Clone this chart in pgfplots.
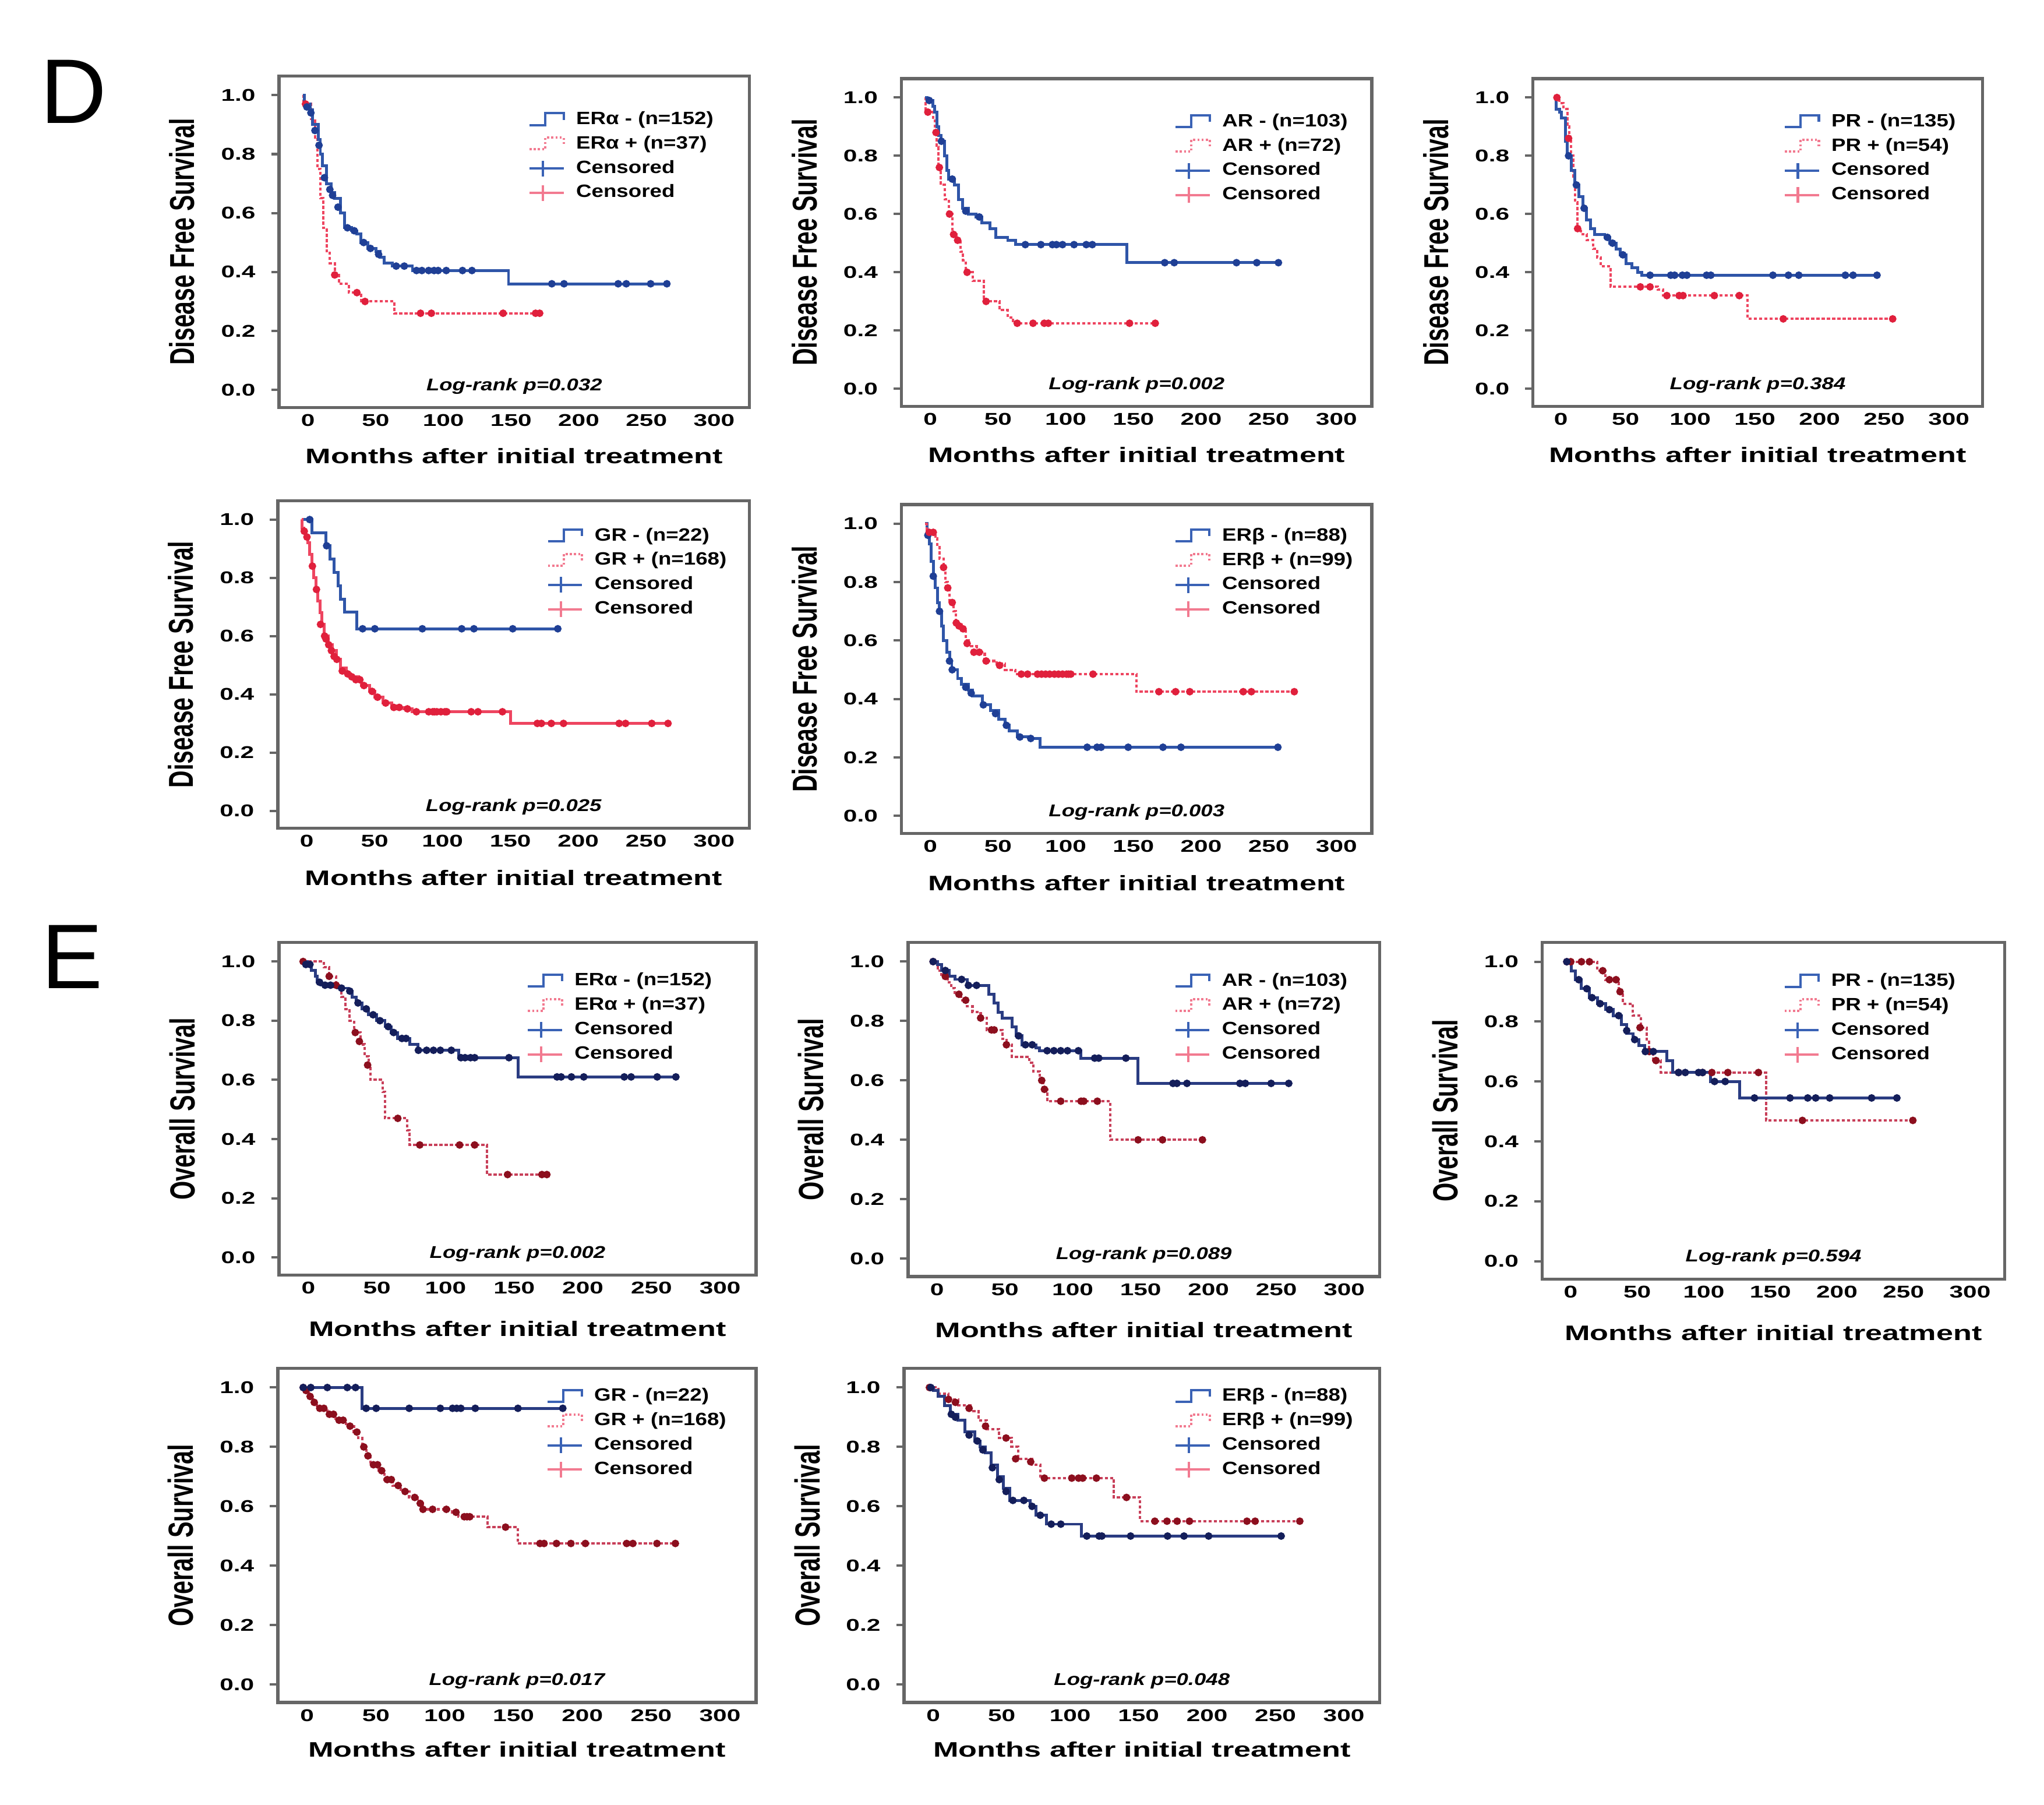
\documentclass[border=0pt]{standalone}
\usepackage{fontspec}
\setmainfont{Liberation Sans}
\usepackage{graphicx}
\usepackage{pgfplots}
\pgfplotsset{compat=1.18}

\definecolor{framegray}{HTML}{666666}
\definecolor{dfsblue}{HTML}{2F55A8}
\definecolor{dfsbluemk}{HTML}{1F3F95}
\definecolor{dfsred}{HTML}{EE4560}
\definecolor{dfsredmk}{HTML}{E0203C}
\definecolor{osblue}{HTML}{2A3C82}
\definecolor{osbluemk}{HTML}{141E5A}
\definecolor{osred}{HTML}{C8405A}
\definecolor{osredmk}{HTML}{8C0F1E}
\definecolor{legblue}{HTML}{3A62B5}
\definecolor{legpink}{HTML}{F27A90}

\newcommand\tkl[1]{\scalebox{1.45}[1]{\fontsize{6.5}{7}\selectfont\bfseries #1}}
\newcommand\lgt[1]{\scalebox{1.2}[1]{\fontsize{6.8}{7}\selectfont\bfseries #1}}
\newcommand\xl{\scalebox{1.45}[1]{\fontsize{8}{9}\selectfont\bfseries Months after initial treatment}}
\newcommand\ylD{\scalebox{1}[1.45]{\fontsize{9.1}{10}\selectfont\bfseries Disease Free Survival}}
\newcommand\ylO{\scalebox{1}[1.45]{\fontsize{9.2}{10}\selectfont\bfseries Overall Survival}}
\newcommand\lr[1]{\node at (rel axis cs:0.5,0.065) {\scalebox{1.25}[1]{\fontsize{6.5}{7}\selectfont\bfseries\itshape Log-rank p=#1}};}

% legend: step line, dotted step line, two censor marks
\newcommand\kmleg[2]{%
  \addlegendimage{legend image code/.code={\path[draw=none,fill=none] (0pt,-3pt) rectangle (17pt,3pt); \draw[legblue, line width=0.9pt] (0pt,-2pt) -- (6pt,-2pt) -- (6pt,2.5pt) -- (13pt,2.5pt) -- (13pt,0pt);}}
  \addlegendentry{\lgt{#1}}
  \addlegendimage{legend image code/.code={\path[draw=none,fill=none] (0pt,-3pt) rectangle (17pt,3pt); \draw[legpink, line width=0.9pt, dash pattern=on 0.8pt off 0.8pt] (0pt,-2pt) -- (6pt,-2pt) -- (6pt,2.5pt) -- (13pt,2.5pt) -- (13pt,0pt);}}
  \addlegendentry{\lgt{#2}}
  \addlegendimage{legend image code/.code={\path[draw=none,fill=none] (0pt,-3pt) rectangle (17pt,3pt); \draw[legblue, line width=0.9pt] (0pt,0pt) -- (13pt,0pt); \draw[legblue, line width=0.9pt] (5pt,-3pt) -- (5pt,3pt);}}
  \addlegendentry{\lgt{Censored}}
  \addlegendimage{legend image code/.code={\path[draw=none,fill=none] (0pt,-3pt) rectangle (17pt,3pt); \draw[legpink, line width=0.9pt] (0pt,0pt) -- (13pt,0pt); \draw[legpink, line width=0.9pt] (5pt,-3pt) -- (5pt,3pt);}}
  \addlegendentry{\lgt{Censored}}
}

\pgfplotsset{
  km/.style={
    scale only axis, anchor=south west,
    xmin=-17.5, xmax=330, ymin=-0.06, ymax=1.065,
    xtick={0,50,100,150,200,250,300},
    xticklabels={\tkl{0},\tkl{50},\tkl{100},\tkl{150},\tkl{200},\tkl{250},\tkl{300}},
    ytick={0,0.2,0.4,0.6,0.8,1.0},
    yticklabels={\tkl{0.0},\tkl{0.2},\tkl{0.4},\tkl{0.6},\tkl{0.8},\tkl{1.0}},
    tick align=outside, tick pos=left, major tick length=3pt,
    xtick style={draw=none},
    ytick style={draw=framegray, line width=0.9pt},
    axis line style={draw=framegray, line width=1.2pt},
    xticklabel style={yshift=3.9pt, xshift=2pt},
    yticklabel style={xshift=-2.5pt},
    xlabel={\xl},
    xlabel style={at={(rel axis cs:0.5,0)}, anchor=center, yshift=-20pt},
    ylabel style={at={(rel axis cs:0,0.5)}, anchor=center, yshift=37pt},
    legend cell align=left,
    legend style={draw=none, fill=none, anchor=north east,
      inner sep=0pt, outer sep=0pt, row sep=1.2pt,
      nodes={inner sep=0.8pt, text height=5pt, text depth=1.5pt}},
  },
  legpos/.style 2 args={legend style={at={(#1,#2)}}},
  dfsB/.style={const plot, draw=dfsblue, line width=1.1pt},
  dfsBm/.style={only marks, mark=*, mark size=1.25pt, color=dfsbluemk},
  dfsR/.style={const plot, draw=dfsred, line width=0.9pt, dash pattern=on 1.2pt off 0.8pt},
  dfsRm/.style={only marks, mark=*, mark size=1.25pt, color=dfsredmk},
  osB/.style={const plot, draw=osblue, line width=1.1pt},
  osBm/.style={only marks, mark=*, mark size=1.25pt, color=osbluemk},
  osR/.style={const plot, draw=osred, line width=0.9pt, dash pattern=on 1.2pt off 0.8pt},
  osRm/.style={only marks, mark=*, mark size=1.25pt, color=osredmk},
}

\begin{document}
\begin{tikzpicture}
\useasboundingbox (0pt,0pt) rectangle (780pt,688.5pt);
\node[font=\fontsize{35}{40}\selectfont] at (28pt,653.5pt) {D};
\node[font=\fontsize{35}{40}\selectfont] at (27.5pt,323.5pt) {E};

% ---------- D: ER alpha ----------
\begin{axis}[km, at={(106.5pt,533pt)}, width=179.5pt, height=126.5pt, ylabel={\ylD},
  xlabel style={yshift=1.5pt}, legpos={0.928}{0.9}]
\kmleg{ERα - (n=152)}{ERα + (n=37)}
\addplot[dfsR, forget plot] coordinates {(0,1.0)(0.5,0.97)(6,0.92)(9,0.85)(11,0.75)(13,0.65)(15,0.55)(17.6,0.47)(20,0.43)(23.6,0.39)(26.7,0.36)(34,0.33)(43,0.30)(67.5,0.26)(175,0.26)};
\addplot[dfsRm, forget plot] coordinates {(2,0.97)(23.6,0.39)(40,0.33)(46,0.30)(87,0.26)(95,0.26)(148,0.26)(172,0.26)(175,0.26)};
\addplot[dfsB, forget plot] coordinates {(0,1.0)(1,0.97)(5.5,0.95)(7,0.90)(11.5,0.85)(13,0.80)(14.5,0.76)(17.6,0.70)(21,0.67)(23.6,0.65)(28,0.60)(31,0.55)(36,0.54)(40,0.53)(43,0.50)(48,0.48)(54,0.47)(57,0.45)(60,0.43)(66,0.42)(81,0.405)(152,0.36)(270,0.36)};
\addplot[dfsBm, forget plot] coordinates {(3,0.96)(6,0.94)(9,0.88)(12,0.83)(16,0.72)(20,0.68)(22,0.66)(26,0.62)(33,0.55)(38,0.54)(45,0.50)(50,0.48)(56,0.46)(69,0.42)(75,0.42)(84,0.405)(88,0.405)(93,0.405)(97,0.405)(100,0.405)(106,0.405)(118,0.405)(125,0.405)(184,0.36)(193,0.36)(233,0.36)(239,0.36)(257,0.36)(269,0.36)};
\lr{0.032}
\end{axis}

% ---------- D: AR ----------
\begin{axis}[km, at={(344pt,533.5pt)}, width=179.5pt, height=125pt, ylabel={\ylD},
  xlabel style={yshift=1.5pt}, legpos={0.953}{0.9}]
\kmleg{AR - (n=103)}{AR + (n=72)}
\addplot[dfsR, forget plot] coordinates {(0,1.0)(0.5,0.95)(5.8,0.93)(7.2,0.88)(8.7,0.83)(10,0.76)(11.6,0.70)(14.5,0.65)(17.4,0.60)(20,0.53)(23,0.51)(26,0.47)(28,0.44)(30,0.40)(35,0.37)(43.5,0.30)(55,0.27)(61,0.245)(65,0.225)(170,0.225)};
\addplot[dfsRm, forget plot] coordinates {(2,0.95)(8,0.88)(10.5,0.76)(18,0.60)(21,0.53)(24,0.51)(31,0.40)(45,0.30)(68,0.225)(79.7,0.225)(88,0.225)(91,0.225)(151,0.225)(170,0.225)};
\addplot[dfsB, forget plot] coordinates {(0,1.0)(1.5,0.99)(5.8,0.97)(7.2,0.95)(8.7,0.90)(10,0.87)(11.6,0.85)(14.5,0.80)(16,0.75)(17.4,0.72)(21.7,0.70)(24.6,0.65)(27.5,0.62)(32,0.60)(37.7,0.59)(42,0.57)(47.8,0.55)(52,0.52)(61,0.51)(66.7,0.495)(149,0.433)(261,0.433)};
\addplot[dfsBm, forget plot] coordinates {(3,0.99)(12,0.85)(20,0.72)(30,0.61)(40,0.59)(74,0.495)(85.5,0.495)(94,0.495)(97,0.495)(101.5,0.495)(110,0.495)(119,0.495)(123.5,0.495)(177,0.433)(184,0.433)(230,0.433)(245,0.433)(261,0.433)};
\lr{0.002}
\end{axis}

% ---------- D: PR ----------
\begin{axis}[km, at={(585pt,533.5pt)}, width=171.5pt, height=125pt, ylabel={\ylD},
  xlabel style={yshift=1.5pt}, legpos={0.945}{0.9}]
\kmleg{PR - (n=135)}{PR + (n=54)}
\addplot[dfsR, forget plot] coordinates {(0,1.0)(3,0.98)(6,0.96)(9,0.90)(10.5,0.85)(12,0.80)(13.5,0.72)(15,0.64)(16.7,0.55)(19.7,0.53)(24,0.51)(29,0.48)(32,0.45)(35,0.42)(42.4,0.35)(78.8,0.34)(83,0.32)(148.5,0.24)(260.6,0.24)};
\addplot[dfsRm, forget plot] coordinates {(1,1.0)(10,0.86)(17,0.55)(65.5,0.35)(73,0.35)(86,0.32)(95.5,0.32)(98.5,0.32)(122.7,0.32)(142,0.32)(176,0.24)(260.6,0.24)};
\addplot[dfsB, forget plot] coordinates {(0,1.0)(0.5,0.96)(3,0.95)(4.5,0.93)(7.6,0.85)(9,0.80)(12,0.75)(15,0.70)(18,0.66)(21,0.62)(24,0.58)(27,0.55)(30,0.53)(38,0.52)(42,0.50)(47,0.48)(50,0.46)(54.5,0.43)(59,0.415)(63.6,0.40)(66.7,0.39)(248.5,0.39)};
\addplot[dfsBm, forget plot] coordinates {(10,0.80)(16,0.70)(22,0.62)(40,0.52)(44,0.50)(52,0.46)(73,0.39)(89,0.39)(92,0.39)(98,0.39)(101.5,0.39)(116.7,0.39)(120,0.39)(168,0.39)(180,0.39)(188,0.39)(224,0.39)(230,0.39)(248.5,0.39)};
\lr{0.384}
\end{axis}

% ---------- D: GR ----------
\begin{axis}[km, at={(106pt,372.5pt)}, width=180pt, height=125pt, ylabel={\ylD},
  xlabel style={yshift=1pt}, legpos={0.956}{0.924}]
\kmleg{GR - (n=22)}{GR + (n=168)}
\addplot[dfsB, forget plot] coordinates {(0,1.0)(7.5,0.955)(18,0.91)(21,0.864)(24,0.818)(27,0.773)(28.7,0.727)(31.7,0.682)(40.8,0.625)(188.8,0.625)};
\addplot[dfsBm, forget plot] coordinates {(6,1.0)(18.5,0.91)(45,0.625)(54,0.625)(89,0.625)(118,0.625)(127,0.625)(155.6,0.625)(188.8,0.625)};
\addplot[const plot, draw=dfsred, line width=1.1pt, forget plot] coordinates {(0,1.0)(0.5,0.97)(1.5,0.96)(3,0.94)(4.5,0.92)(6,0.88)(7.5,0.84)(9,0.80)(10.5,0.76)(12,0.72)(13.5,0.68)(15,0.64)(16.6,0.60)(19.6,0.57)(22.7,0.55)(25.7,0.52)(28.7,0.49)(33,0.47)(36,0.46)(42,0.45)(44,0.43)(50,0.41)(54,0.39)(60,0.37)(66.5,0.355)(75.5,0.35)(81.6,0.34)(154,0.30)(270,0.30)};
\addplot[dfsRm, forget plot] coordinates {(2,0.96)(4,0.94)(8,0.84)(11,0.76)(14,0.64)(17,0.60)(18,0.59)(20,0.57)(22,0.55)(24,0.53)(26,0.52)(30,0.48)(34,0.47)(37,0.46)(40,0.45)(43,0.45)(46,0.43)(52,0.41)(56,0.39)(62,0.37)(68,0.355)(72,0.355)(78,0.35)(84.6,0.34)(93.7,0.34)(96.7,0.34)(98,0.34)(99.7,0.34)(102.7,0.34)(105.7,0.34)(107,0.34)(125,0.34)(130,0.34)(148,0.34)(173.7,0.30)(176.7,0.30)(184,0.30)(193,0.30)(234,0.30)(238.7,0.30)(258,0.30)(270,0.30)};
\lr{0.025}
\end{axis}

% ---------- D: ER beta ----------
\begin{axis}[km, at={(344pt,370.5pt)}, width=179.5pt, height=125.5pt, ylabel={\ylD},
  xlabel style={yshift=1pt}, legpos={0.964}{0.936}]
\kmleg{ERβ - (n=88)}{ERβ + (n=99)}
\addplot[dfsB, forget plot] coordinates {(0,1.0)(1.5,0.96)(3,0.93)(4.5,0.87)(6,0.82)(7.5,0.78)(9,0.73)(10.6,0.70)(12,0.65)(13.6,0.60)(16,0.56)(18,0.53)(19.7,0.50)(24,0.47)(27,0.45)(32,0.43)(35,0.41)(42.4,0.38)(48.5,0.36)(54.5,0.33)(59,0.31)(62,0.29)(68,0.27)(77,0.265)(85,0.235)(260.6,0.235)};
\addplot[dfsBm, forget plot] coordinates {(2,0.96)(6,0.82)(10.6,0.70)(18,0.53)(20,0.50)(30,0.44)(34,0.42)(43,0.38)(52,0.35)(60,0.31)(70,0.27)(78,0.265)(119.7,0.235)(127,0.235)(130,0.235)(150,0.235)(175.7,0.235)(189,0.235)(260.6,0.235)};
\addplot[dfsR, forget plot] coordinates {(0,1.0)(1,0.97)(7.5,0.95)(9,0.92)(10.5,0.88)(13.6,0.85)(15,0.80)(16.7,0.78)(18,0.73)(21,0.70)(22.7,0.66)(27,0.64)(30,0.60)(32,0.58)(38,0.56)(44,0.53)(53,0.52)(59,0.50)(66.7,0.485)(156,0.425)(272.7,0.425)};
\addplot[dfsRm, forget plot] coordinates {(3,0.97)(6,0.97)(13.6,0.85)(16.7,0.78)(20,0.73)(23,0.66)(25,0.65)(28,0.64)(31,0.59)(36,0.56)(40,0.56)(45,0.53)(55,0.515)(71,0.485)(75.7,0.485)(83,0.485)(86,0.485)(89,0.485)(92,0.485)(95.5,0.485)(98.5,0.485)(101.5,0.485)(104.5,0.485)(106,0.485)(107.6,0.485)(124,0.485)(172.7,0.425)(185,0.425)(195.5,0.425)(235,0.425)(241,0.425)(272.7,0.425)};
\lr{0.003}
\end{axis}

% ---------- E: ER alpha ----------
\begin{axis}[km, at={(106.5pt,202pt)}, width=182pt, height=127pt, ylabel={\ylO},
  xlabel style={yshift=-0.5pt}, legpos={0.912}{0.915}]
\kmleg{ERα - (n=152)}{ERα + (n=37)}
\addplot[osR, forget plot] coordinates {(0,1.0)(15,0.98)(19,0.95)(23.9,0.92)(28,0.88)(31,0.84)(34,0.80)(37,0.76)(41.8,0.72)(44.8,0.68)(47.8,0.64)(49,0.60)(58,0.56)(59.7,0.47)(76,0.43)(77.6,0.38)(134,0.28)(177.6,0.28)};
\addplot[osRm, forget plot] coordinates {(0,1.0)(19,0.95)(24,0.92)(38,0.76)(41,0.73)(47,0.65)(69,0.47)(85,0.38)(114,0.38)(125,0.38)(149,0.28)(174,0.28)(177.6,0.28)};
\addplot[osB, forget plot] coordinates {(0,1.0)(3,0.99)(6,0.97)(9,0.95)(10.4,0.93)(13.4,0.92)(25,0.91)(32.8,0.90)(35.8,0.88)(38.8,0.86)(43,0.84)(47.8,0.82)(53.7,0.80)(59.7,0.78)(64,0.76)(68.7,0.74)(77.6,0.72)(83.6,0.70)(113.4,0.675)(156.7,0.61)(271.6,0.61)};
\addplot[osBm, forget plot] coordinates {(2,0.99)(5,0.99)(12,0.93)(16,0.92)(20,0.92)(28,0.91)(34,0.90)(40,0.86)(46,0.84)(51,0.82)(56,0.80)(62,0.78)(66,0.76)(72,0.74)(75,0.74)(84,0.70)(90,0.70)(95,0.70)(100,0.70)(108,0.70)(115,0.675)(118,0.675)(122,0.675)(125,0.675)(150,0.675)(185,0.61)(188,0.61)(195.5,0.61)(204.5,0.61)(234,0.61)(239,0.61)(258,0.61)(271.6,0.61)};
\lr{0.002}
\end{axis}

% ---------- E: AR ----------
\begin{axis}[km, at={(346.5pt,201.5pt)}, width=180pt, height=127.5pt, ylabel={\ylO},
  xlabel style={yshift=-0.5pt}, legpos={0.936}{0.915}]
\kmleg{AR - (n=103)}{AR + (n=72)}
\addplot[osR, forget plot] coordinates {(0,1.0)(4.3,0.97)(7,0.95)(11.6,0.93)(14.5,0.91)(17,0.89)(21.7,0.87)(26,0.85)(30,0.83)(36,0.81)(40.5,0.77)(52,0.74)(55,0.72)(59,0.68)(72,0.66)(75,0.63)(79.5,0.60)(82,0.57)(85,0.53)(131.5,0.40)(199.4,0.40)};
\addplot[osRm, forget plot] coordinates {(1,1.0)(10,0.95)(20,0.89)(25,0.87)(36,0.81)(44,0.77)(46,0.77)(55,0.72)(81,0.60)(83,0.57)(95,0.53)(110,0.53)(112,0.53)(122,0.53)(152,0.40)(170,0.40)(199.4,0.40)};
\addplot[osB, forget plot] coordinates {(0,1.0)(4.3,0.99)(7.2,0.97)(13,0.95)(17,0.94)(26,0.92)(42,0.89)(46,0.86)(49,0.83)(52,0.81)(59,0.78)(62,0.75)(66.5,0.72)(76.6,0.71)(79.5,0.70)(110,0.675)(151.7,0.59)(263,0.59)};
\addplot[osBm, forget plot] coordinates {(1,1.0)(10,0.97)(22,0.94)(27,0.92)(33,0.92)(64,0.75)(69,0.72)(74,0.72)(85,0.70)(90,0.70)(95,0.70)(100,0.70)(108,0.70)(120,0.675)(123,0.675)(143,0.675)(177.7,0.59)(180.6,0.59)(188,0.59)(227,0.59)(231,0.59)(250,0.59)(263,0.59)};
\lr{0.089}
\end{axis}

% ---------- E: PR ----------
\begin{axis}[km, at={(588.5pt,200.5pt)}, width=176.5pt, height=128.5pt, ylabel={\ylO},
  xlabel style={yshift=-0.5pt}, legpos={0.898}{0.915}]
\kmleg{PR - (n=135)}{PR + (n=54)}
\addplot[osR, forget plot] coordinates {(0,1.0)(24,0.97)(30,0.94)(40,0.90)(43,0.86)(50.7,0.82)(56.7,0.78)(61,0.74)(62.7,0.70)(65.7,0.67)(71.6,0.63)(150.7,0.47)(261,0.47)};
\addplot[osRm, forget plot] coordinates {(1,1.0)(4,1.0)(12,1.0)(18,1.0)(28,0.97)(33,0.94)(38,0.94)(41,0.90)(56,0.78)(63,0.70)(68,0.67)(85,0.63)(103,0.63)(110,0.63)(122,0.63)(145,0.63)(178,0.47)(261,0.47)};
\addplot[osB, forget plot] coordinates {(0,1.0)(4.5,0.97)(7.5,0.94)(12,0.91)(18,0.88)(24,0.86)(30,0.84)(36,0.82)(42,0.79)(46,0.76)(50.7,0.74)(55,0.72)(59.7,0.70)(76,0.67)(80.6,0.63)(109,0.60)(131,0.545)(249,0.545)};
\addplot[osBm, forget plot] coordinates {(1,1.0)(10,0.94)(16,0.91)(20,0.88)(26,0.86)(33,0.84)(40,0.82)(46,0.77)(52,0.74)(60,0.70)(66,0.70)(85,0.63)(90,0.63)(100,0.63)(103,0.63)(112,0.60)(120,0.60)(142,0.545)(168.7,0.545)(182,0.545)(188,0.545)(198.5,0.545)(230,0.545)(249,0.545)};
\lr{0.594}
\end{axis}

% ---------- E: GR ----------
\begin{axis}[km, at={(106pt,39pt)}, width=182.5pt, height=127.5pt, ylabel={\ylO},
  xlabel style={yshift=2pt}, legpos={0.942}{0.947}]
\kmleg{GR - (n=22)}{GR + (n=168)}
\addplot[osR, forget plot] coordinates {(0,1.0)(2,0.99)(5,0.97)(8,0.95)(11,0.93)(18.5,0.91)(24.4,0.89)(32,0.87)(37.8,0.85)(40.8,0.83)(43.8,0.80)(46.7,0.77)(49.7,0.74)(55.6,0.72)(60,0.69)(66,0.67)(72,0.65)(78,0.63)(84,0.61)(88,0.59)(109,0.58)(113.7,0.565)(135,0.53)(156.8,0.475)(271.4,0.475)};
\addplot[osRm, forget plot] coordinates {(1,1.0)(3,0.99)(6,0.97)(9,0.95)(13,0.93)(16,0.93)(20,0.91)(23,0.91)(27,0.89)(30,0.89)(35,0.87)(40,0.85)(45,0.80)(48,0.77)(52,0.74)(55,0.74)(58,0.72)(62,0.69)(65,0.69)(70,0.67)(75,0.65)(82,0.63)(86,0.61)(88,0.59)(95,0.59)(105,0.59)(112,0.58)(118,0.565)(120,0.565)(122,0.565)(148,0.53)(173,0.475)(176,0.475)(185,0.475)(195.5,0.475)(206,0.475)(236,0.475)(240.5,0.475)(258,0.475)(271.4,0.475)};
\addplot[osB, forget plot] coordinates {(0,1.0)(43.8,0.93)(189.6,0.93)};
\addplot[osBm, forget plot] coordinates {(1,1.0)(6.5,1.0)(18.5,1.0)(33,1.0)(39,1.0)(46.7,0.93)(54,0.93)(78,0.93)(100.6,0.93)(109.5,0.93)(112.5,0.93)(115.5,0.93)(126,0.93)(157,0.93)(189.6,0.93)};
\lr{0.017}
\end{axis}

% ---------- E: ER beta ----------
\begin{axis}[km, at={(345pt,39pt)}, width=181.5pt, height=127.5pt, ylabel={\ylO},
  xlabel style={yshift=2pt}, legpos={0.948}{0.947}]
\kmleg{ERβ - (n=88)}{ERβ + (n=99)}
\addplot[osR, forget plot] coordinates {(0,1.0)(7.5,0.98)(15,0.96)(22,0.94)(31,0.92)(37,0.89)(43,0.86)(52,0.83)(61,0.80)(65.7,0.76)(76,0.74)(82,0.695)(135.8,0.63)(155,0.55)(271.6,0.55)};
\addplot[osRm, forget plot] coordinates {(1,1.0)(15,0.96)(20,0.95)(30,0.93)(42,0.87)(57,0.83)(64,0.76)(75,0.75)(85,0.695)(105,0.695)(110,0.695)(113,0.695)(123,0.695)(145,0.63)(165.7,0.55)(174.6,0.55)(182,0.55)(191,0.55)(233,0.55)(239,0.55)(271.6,0.55)};
\addplot[osB, forget plot] coordinates {(0,1.0)(4,0.99)(7.5,0.97)(12,0.94)(16.4,0.91)(22,0.89)(27,0.85)(34,0.82)(38,0.80)(42,0.78)(46,0.74)(50.7,0.70)(55,0.66)(59.7,0.62)(74.6,0.60)(79,0.57)(86.6,0.54)(112,0.50)(258,0.50)};
\addplot[osBm, forget plot] coordinates {(2,1.0)(17,0.91)(20,0.90)(30,0.84)(36,0.82)(40,0.79)(47,0.73)(52,0.69)(57,0.65)(62,0.62)(70,0.62)(76,0.60)(82,0.57)(90,0.54)(97,0.54)(116,0.50)(125,0.50)(127,0.50)(148,0.50)(175,0.50)(187,0.50)(205,0.50)(258,0.50)};
\lr{0.048}
\end{axis}
\end{tikzpicture}
\end{document}
